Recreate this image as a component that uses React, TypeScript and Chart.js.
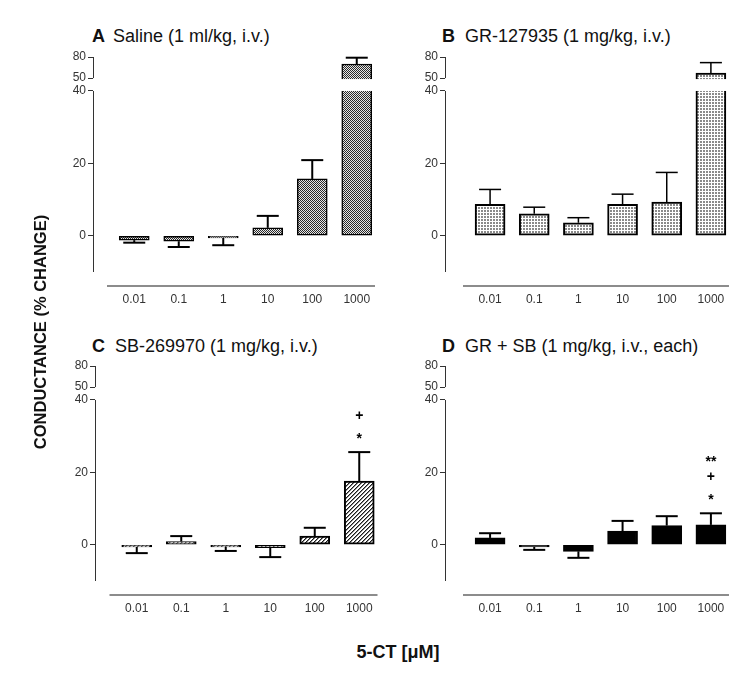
import React, { useEffect, useRef } from 'react';
import { Chart, registerables, LinearScale, CategoryScale } from 'chart.js';

Chart.register(...registerables);

// ---------------- data ----------------
const DOSES = ['0.01', '0.1', '1', '10', '100', '1000'];
const Y_TICKS = [0, 20, 40, 50, 80];

const SALINE_MEAN = [-1.2, -1.5, -0.6, 2.2, 15.7, 70];
const SALINE_ERR_END = [-1.9, -3.1, -2.6, 5.5, 20.9, 79];

const GR_MEAN = [8.7, 6.1, 3.6, 8.7, 9.3, 57];
const GR_ERR_END = [12.8, 7.9, 5.0, 11.5, 17.5, 72];

const SB_MEAN = [-0.6, 0.9, -0.6, -0.8, 2.4, 17.6];
const SB_ERR_END = [-2.3, 2.4, -1.7, -3.4, 4.7, 25.6];
const SB_MARKS = [[], [], [], [], [], ['*', '+']];

const GRSB_MEAN = [1.9, -0.6, -1.8, 3.8, 5.3, 5.5];
const GRSB_ERR_END = [3.2, -1.4, -3.6, 6.6, 7.9, 8.7];
const GRSB_MARKS = [[], [], [], [], [], ['*', '+', '**']];

// ---------------- broken axis ----------------
const AXIS_MIN = -10;
const BREAK_LOW = 40;
const BREAK_HIGH = 50;
const AXIS_MAX = 80;
const LOWER_SHARE = 0.842;
const GAP_SHARE = 0.06;

function valueToDecimal(v: number) {
  if (v <= BREAK_LOW) return ((v - AXIS_MIN) / (BREAK_LOW - AXIS_MIN)) * LOWER_SHARE;
  if (v < BREAK_HIGH) return LOWER_SHARE + ((v - BREAK_LOW) / (BREAK_HIGH - BREAK_LOW)) * GAP_SHARE;
  return LOWER_SHARE + GAP_SHARE + ((v - BREAK_HIGH) / (AXIS_MAX - BREAK_HIGH)) * (1 - LOWER_SHARE - GAP_SHARE);
}
function decimalToValue(d: number) {
  if (d <= LOWER_SHARE) return AXIS_MIN + (d / LOWER_SHARE) * (BREAK_LOW - AXIS_MIN);
  if (d < LOWER_SHARE + GAP_SHARE) return BREAK_LOW + ((d - LOWER_SHARE) / GAP_SHARE) * (BREAK_HIGH - BREAK_LOW);
  return BREAK_HIGH + ((d - LOWER_SHARE - GAP_SHARE) / (1 - LOWER_SHARE - GAP_SHARE)) * (AXIS_MAX - BREAK_HIGH);
}

class BrokenLinearScale extends (LinearScale as any) {
  static id = 'brokenLinear';
  static defaults = {};
  getPixelForValue(value: any) {
    if (value === null || value === undefined || Number.isNaN(+value)) return NaN;
    return this.getPixelForDecimal(valueToDecimal(+value));
  }
  getValueForPixel(pixel: number) {
    return decimalToValue(this.getDecimalForPixel(pixel));
  }
}

class GapCategoryScale extends (CategoryScale as any) {
  static id = 'gapCategory';
  static defaults = {};
  configure() {
    super.configure();
    const gap = Number((this.options as any).leftGap) || 0;
    this._startPixel += gap;
    this._length -= gap;
  }
}

Chart.register(BrokenLinearScale as any, GapCategoryScale as any);

const FONT = "'Liberation Sans', Arial, Helvetica, sans-serif";
Chart.defaults.font.family = FONT;

// ---------------- patterns ----------------
function makePattern(ctx: CanvasRenderingContext2D, kind: string): any {
  if (kind === 'solid') return '#000000';
  const pc = document.createElement('canvas');
  let size = 2;
  if (kind === 'grid') size = 3;
  if (kind === 'hatch') size = 4;
  pc.width = size;
  pc.height = size;
  const p = pc.getContext('2d')!;
  if (kind === 'checker') {
    p.fillStyle = '#e6e6e6';
    p.fillRect(0, 0, 2, 2);
    p.fillStyle = '#2a2a2a';
    p.fillRect(0, 0, 1, 1);
    p.fillRect(1, 1, 1, 1);
  } else if (kind === 'grid') {
    p.fillStyle = '#ffffff';
    p.fillRect(0, 0, 3, 3);
    p.fillStyle = '#8a8a8a';
    p.fillRect(0, 0, 2, 2);
  } else if (kind === 'hatch') {
    p.fillStyle = '#ffffff';
    p.fillRect(0, 0, 4, 4);
    for (let x = 0; x < 4; x++) {
      for (let y = 0; y < 4; y++) {
        const s = (x + y) % 4;
        if (s === 0) {
          p.fillStyle = '#1a1a1a';
          p.fillRect(x, y, 1, 1);
        } else if (s === 1) {
          p.fillStyle = '#8a8a8a';
          p.fillRect(x, y, 1, 1);
        }
      }
    }
  }
  return ctx.createPattern(pc, 'repeat');
}

// ---------------- panel ----------------
type PanelProps = {
  left: number;
  top: number;
  gap: number;
  mean: number[];
  errEnd: number[];
  marks?: string[][];
  fill: string;
  borderWidth: number;
  errWidth: number;
};

const CW = 360;
const CH = 300;

function Panel(props: PanelProps) {
  const ref = useRef<HTMLCanvasElement>(null);
  useEffect(() => {
    const canvas = ref.current!;
    const ctx = canvas.getContext('2d')!;
    const bg = makePattern(ctx, props.fill);

    const decor = {
      id: 'decor',
      afterDatasetsDraw(chart: any) {
        const c = chart.ctx;
        const ys = chart.scales.y;
        const xs = chart.scales.x;
        const area = chart.chartArea;
        c.save();
        // break gap
        const pHigh = ys.getPixelForValue(BREAK_HIGH);
        const pLow = ys.getPixelForValue(BREAK_LOW);
        c.fillStyle = '#ffffff';
        c.fillRect(area.left + 1, pHigh + 1, area.right - area.left, pLow - pHigh - 1);

        // error bars + significance marks
        const meta = chart.getDatasetMeta(0);
        meta.data.forEach((bar: any, i: number) => {
          const p = bar.getProps(['x', 'y', 'width'], true);
          const ye = ys.getPixelForValue(props.errEnd[i]);
          c.strokeStyle = '#000';
          c.lineWidth = props.errWidth;
          c.beginPath();
          c.moveTo(p.x, p.y);
          c.lineTo(p.x, ye);
          c.stroke();
          c.beginPath();
          c.moveTo(p.x - 11, ye);
          c.lineTo(p.x + 11, ye);
          c.stroke();
          const m = props.marks ? props.marks[i] : [];
          m.forEach((txt: string, k: number) => {
            c.fillStyle = '#000';
            c.textAlign = 'center';
            c.textBaseline = 'middle';
            c.font = 'bold 14px ' + FONT;
            const yy = ye - 17 - k * 19 + (txt.indexOf('*') >= 0 ? 4 : 0);
            c.fillText(txt, p.x, yy);
          });
        });

        // broken y axis line
        c.strokeStyle = '#333';
        c.lineWidth = 1;
        const ax = Math.round(area.left) + 0.5;
        c.beginPath();
        c.moveTo(ax, ys.getPixelForValue(AXIS_MAX));
        c.lineTo(ax, pHigh);
        c.moveTo(ax, pLow);
        c.lineTo(ax, area.bottom);
        c.stroke();

        // detached x axis line
        const xStart = xs.getPixelForDecimal(0);
        c.strokeStyle = '#8c8c8c';
        c.lineWidth = 2;
        c.beginPath();
        c.moveTo(xStart - 5, area.bottom + 14);
        c.lineTo(area.right - 4, area.bottom + 14);
        c.stroke();
        c.restore();
      },
    };

    const chart = new Chart(canvas, {
      type: 'bar',
      data: {
        labels: DOSES,
        datasets: [
          {
            data: props.mean,
            backgroundColor: bg,
            borderColor: '#000',
            borderWidth: props.borderWidth,
            borderSkipped: false,
            barThickness: 30,
          } as any,
        ],
      },
      options: {
        responsive: false,
        animation: false,
        devicePixelRatio: 1,
        layout: { padding: { left: 10, top: 30, bottom: 15, right: 33 - props.gap } },
        plugins: { legend: { display: false }, tooltip: { enabled: false }, title: { display: false } },
        scales: {
          x: {
            type: 'gapCategory',
            leftGap: props.gap,
            offset: true,
            grid: { display: false, drawTicks: false },
            border: { display: false },
            ticks: { padding: 20, color: '#333', font: { family: FONT, size: 12 }, autoSkip: false, maxRotation: 0 },
            afterFit: (s: any) => {
              s.height = 40;
            },
          } as any,
          y: {
            type: 'brokenLinear',
            min: AXIS_MIN,
            max: AXIS_MAX,
            afterBuildTicks: (s: any) => {
              s.ticks = Y_TICKS.map((v) => ({ value: v }));
            },
            afterFit: (s: any) => {
              s.width = 50;
            },
            grid: { display: true, drawOnChartArea: false, drawTicks: true, tickLength: 5, color: '#333', lineWidth: 1 },
            border: { display: false },
            ticks: { padding: 2, color: '#333', font: { family: FONT, size: 12 }, autoSkip: false },
          } as any,
        },
      } as any,
      plugins: [decor],
    });
    return () => chart.destroy();
  }, []);
  return (
    <canvas
      ref={ref}
      width={CW}
      height={CH}
      style={{ position: 'absolute', left: props.left, top: props.top, width: CW, height: CH }}
    />
  );
}

function Title(props: { left: number; top: number; letter: string; gap: number; text: string }) {
  return (
    <div
      style={{
        position: 'absolute',
        left: props.left,
        top: props.top,
        fontFamily: FONT,
        fontSize: 18,
        lineHeight: '20px',
        color: '#111',
        whiteSpace: 'nowrap',
      }}
    >
      <b style={{ marginRight: props.gap }}>{props.letter}</b>
      {props.text}
    </div>
  );
}

export default function App() {
  return (
    <div style={{ position: 'absolute', left: 0, top: 0, width: 756, height: 675, background: '#fff', overflow: 'hidden' }}>
      <Title left={92} top={26} letter="A" gap={8} text="Saline (1 ml/kg, i.v.)" />
      <Title left={442} top={26} letter="B" gap={10} text="GR-127935 (1 mg/kg, i.v.)" />
      <Title left={92} top={336} letter="C" gap={10} text="SB-269970 (1 mg/kg, i.v.)" />
      <Title left={442} top={336} letter="D" gap={10} text="GR + SB (1 mg/kg, i.v., each)" />

      <Panel left={33} top={27} gap={19} mean={SALINE_MEAN} errEnd={SALINE_ERR_END} fill="checker" borderWidth={1.5} errWidth={2} />
      <Panel left={385} top={27} gap={23} mean={GR_MEAN} errEnd={GR_ERR_END} fill="grid" borderWidth={2} errWidth={1.5} />
      <Panel left={35} top={336} gap={19.5} mean={SB_MEAN} errEnd={SB_ERR_END} marks={SB_MARKS} fill="hatch" borderWidth={2} errWidth={2} />
      <Panel left={385} top={336} gap={23} mean={GRSB_MEAN} errEnd={GRSB_ERR_END} marks={GRSB_MARKS} fill="solid" borderWidth={2} errWidth={2} />

      <div
        style={{
          position: 'absolute',
          left: 40 - 150,
          top: 332 - 10,
          width: 300,
          height: 20,
          lineHeight: '20px',
          textAlign: 'center',
          transform: 'rotate(-90deg)',
          fontFamily: FONT,
          fontWeight: 'bold',
          fontSize: 16.5,
          color: '#111',
          whiteSpace: 'nowrap',
        }}
      >
        CONDUCTANCE (% CHANGE)
      </div>
      <div
        style={{
          position: 'absolute',
          left: 298,
          top: 641,
          width: 200,
          lineHeight: '22px',
          textAlign: 'center',
          fontFamily: FONT,
          fontWeight: 'bold',
          fontSize: 18,
          color: '#111',
          whiteSpace: 'nowrap',
        }}
      >
        5-CT [μM]
      </div>
    </div>
  );
}
